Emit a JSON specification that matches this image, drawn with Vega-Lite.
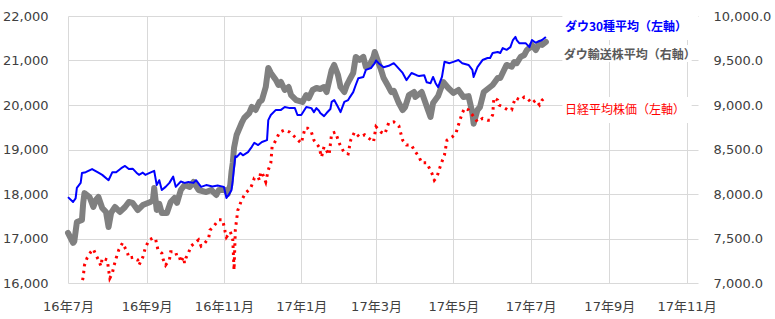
{
  "$schema": "https://vega.github.io/schema/vega-lite/v6.json",
  "width": 630,
  "height": 267,
  "autosize": {"type": "none"},
  "padding": {"left": 68, "top": 16, "right": 77, "bottom": 36},
  "background": "white",
  "config": {
    "view": {"stroke": null},
    "axis": {
      "labelFont": "DejaVu Sans, Noto Sans CJK JP",
      "labelFontSize": 13,
      "labelColor": "#404040",
      "domain": false,
      "ticks": false,
      "tickSize": 0,
      "gridColor": "#d9d9d9",
      "gridWidth": 1,
      "title": null
    }
  },
  "datasets": {
    "dow": [
      {"date":"2016-07-01","value":17930},{"date":"2016-07-05","value":17820},{"date":"2016-07-07","value":17900},{"date":"2016-07-08","value":18140},{"date":"2016-07-11","value":18250},{"date":"2016-07-12","value":18470},{"date":"2016-07-15","value":18490},{"date":"2016-07-20","value":18560},{"date":"2016-07-25","value":18480},{"date":"2016-07-28","value":18430},{"date":"2016-08-02","value":18310},{"date":"2016-08-05","value":18490},{"date":"2016-08-08","value":18490},{"date":"2016-08-12","value":18580},{"date":"2016-08-15","value":18630},{"date":"2016-08-18","value":18560},{"date":"2016-08-21","value":18570},{"date":"2016-08-24","value":18480},{"date":"2016-08-26","value":18430},{"date":"2016-08-29","value":18480},{"date":"2016-08-31","value":18430},{"date":"2016-09-03","value":18470},{"date":"2016-09-07","value":18520},{"date":"2016-09-09","value":18200},{"date":"2016-09-11","value":18310},{"date":"2016-09-13","value":18090},{"date":"2016-09-16","value":18160},{"date":"2016-09-19","value":18250},{"date":"2016-09-22","value":18390},{"date":"2016-09-24","value":18160},{"date":"2016-09-28","value":18280},{"date":"2016-10-01","value":18250},{"date":"2016-10-04","value":18270},{"date":"2016-10-08","value":18250},{"date":"2016-10-10","value":18310},{"date":"2016-10-14","value":18160},{"date":"2016-10-18","value":18200},{"date":"2016-10-23","value":18170},{"date":"2016-10-27","value":18190},{"date":"2016-11-01","value":18160},{"date":"2016-11-03","value":17910},{"date":"2016-11-05","value":17990},{"date":"2016-11-07","value":18090},{"date":"2016-11-08","value":18310},{"date":"2016-11-09","value":18600},{"date":"2016-11-10","value":18850},{"date":"2016-11-11","value":18830},{"date":"2016-11-14","value":18920},{"date":"2016-11-16","value":18870},{"date":"2016-11-20","value":18940},{"date":"2016-11-23","value":19060},{"date":"2016-11-25","value":19150},{"date":"2016-11-28","value":19100},{"date":"2016-12-01","value":19170},{"date":"2016-12-05","value":19210},{"date":"2016-12-06","value":19660},{"date":"2016-12-08","value":19775},{"date":"2016-12-12","value":19890},{"date":"2016-12-16","value":19890},{"date":"2016-12-19","value":19955},{"date":"2016-12-23","value":19930},{"date":"2016-12-27","value":19930},{"date":"2016-12-29","value":19775},{"date":"2017-01-01","value":19775},{"date":"2017-01-05","value":19955},{"date":"2017-01-09","value":19930},{"date":"2017-01-11","value":19840},{"date":"2017-01-13","value":19930},{"date":"2017-01-15","value":19870},{"date":"2017-01-16","value":19820},{"date":"2017-01-19","value":19750},{"date":"2017-01-21","value":19820},{"date":"2017-01-24","value":19910},{"date":"2017-01-25","value":20070},{"date":"2017-01-27","value":20110},{"date":"2017-01-30","value":19955},{"date":"2017-02-01","value":19840},{"date":"2017-02-04","value":20070},{"date":"2017-02-07","value":20110},{"date":"2017-02-08","value":20160},{"date":"2017-02-11","value":20290},{"date":"2017-02-13","value":20450},{"date":"2017-02-15","value":20600},{"date":"2017-02-19","value":20630},{"date":"2017-02-21","value":20790},{"date":"2017-02-25","value":20830},{"date":"2017-02-28","value":20940},{"date":"2017-03-01","value":21000},{"date":"2017-03-03","value":20940},{"date":"2017-03-07","value":20850},{"date":"2017-03-11","value":20880},{"date":"2017-03-15","value":20940},{"date":"2017-03-17","value":20880},{"date":"2017-03-22","value":20720},{"date":"2017-03-25","value":20560},{"date":"2017-03-29","value":20720},{"date":"2017-04-02","value":20670},{"date":"2017-04-04","value":20650},{"date":"2017-04-08","value":20670},{"date":"2017-04-10","value":20510},{"date":"2017-04-13","value":20490},{"date":"2017-04-15","value":20630},{"date":"2017-04-17","value":20490},{"date":"2017-04-19","value":20400},{"date":"2017-04-22","value":20630},{"date":"2017-04-24","value":20970},{"date":"2017-04-28","value":20940},{"date":"2017-05-01","value":20970},{"date":"2017-05-05","value":21010},{"date":"2017-05-08","value":20940},{"date":"2017-05-13","value":20900},{"date":"2017-05-16","value":20790},{"date":"2017-05-17","value":20630},{"date":"2017-05-20","value":20850},{"date":"2017-05-24","value":21010},{"date":"2017-05-28","value":21055},{"date":"2017-05-30","value":21055},{"date":"2017-06-01","value":21170},{"date":"2017-06-05","value":21190},{"date":"2017-06-07","value":21170},{"date":"2017-06-09","value":21280},{"date":"2017-06-12","value":21240},{"date":"2017-06-15","value":21300},{"date":"2017-06-17","value":21460},{"date":"2017-06-19","value":21530},{"date":"2017-06-20","value":21460},{"date":"2017-06-22","value":21390},{"date":"2017-06-27","value":21390},{"date":"2017-06-30","value":21300},{"date":"2017-07-02","value":21460},{"date":"2017-07-05","value":21400},{"date":"2017-07-10","value":21460},{"date":"2017-07-13","value":21530}
    ],
    "nikkei": [
      {"date":"2016-07-06","value":15380},{"date":"2016-07-08","value":15100},{"date":"2016-07-11","value":15700},{"date":"2016-07-12","value":16000},{"date":"2016-07-13","value":16135},{"date":"2016-07-14","value":16400},{"date":"2016-07-16","value":16560},{"date":"2016-07-19","value":16700},{"date":"2016-07-21","value":16760},{"date":"2016-07-23","value":16630},{"date":"2016-07-25","value":16520},{"date":"2016-07-27","value":16380},{"date":"2016-07-28","value":16560},{"date":"2016-07-30","value":16540},{"date":"2016-08-01","value":16520},{"date":"2016-08-02","value":16300},{"date":"2016-08-03","value":16110},{"date":"2016-08-05","value":16220},{"date":"2016-08-06","value":16360},{"date":"2016-08-08","value":16560},{"date":"2016-08-10","value":16740},{"date":"2016-08-13","value":16900},{"date":"2016-08-15","value":16790},{"date":"2016-08-17","value":16670},{"date":"2016-08-18","value":16560},{"date":"2016-08-22","value":16580},{"date":"2016-08-25","value":16520},{"date":"2016-08-26","value":16400},{"date":"2016-08-29","value":16580},{"date":"2016-08-31","value":16790},{"date":"2016-09-03","value":16970},{"date":"2016-09-06","value":17010},{"date":"2016-09-08","value":17000},{"date":"2016-09-10","value":16740},{"date":"2016-09-13","value":16670},{"date":"2016-09-14","value":16540},{"date":"2016-09-16","value":16400},{"date":"2016-09-19","value":16520},{"date":"2016-09-20","value":16700},{"date":"2016-09-24","value":16700},{"date":"2016-09-25","value":16580},{"date":"2016-09-27","value":16580},{"date":"2016-09-28","value":16470},{"date":"2016-09-30","value":16580},{"date":"2016-10-01","value":16450},{"date":"2016-10-02","value":16560},{"date":"2016-10-04","value":16670},{"date":"2016-10-06","value":16830},{"date":"2016-10-10","value":16920},{"date":"2016-10-12","value":16970},{"date":"2016-10-14","value":16830},{"date":"2016-10-17","value":16900},{"date":"2016-10-20","value":17010},{"date":"2016-10-21","value":17190},{"date":"2016-10-23","value":17240},{"date":"2016-10-26","value":17350},{"date":"2016-10-28","value":17420},{"date":"2016-10-31","value":17420},{"date":"2016-11-02","value":17150},{"date":"2016-11-03","value":17030},{"date":"2016-11-06","value":17150},{"date":"2016-11-07","value":17080},{"date":"2016-11-08","value":16970},{"date":"2016-11-09","value":16290},{"date":"2016-11-10","value":17190},{"date":"2016-11-11","value":17420},{"date":"2016-11-12","value":17640},{"date":"2016-11-15","value":17865},{"date":"2016-11-18","value":18020},{"date":"2016-11-22","value":18130},{"date":"2016-11-24","value":18270},{"date":"2016-11-25","value":18360},{"date":"2016-11-28","value":18380},{"date":"2016-11-29","value":18310},{"date":"2016-11-30","value":18490},{"date":"2016-12-01","value":18490},{"date":"2016-12-04","value":18270},{"date":"2016-12-06","value":18540},{"date":"2016-12-08","value":18700},{"date":"2016-12-09","value":19060},{"date":"2016-12-12","value":19210},{"date":"2016-12-15","value":19390},{"date":"2016-12-19","value":19440},{"date":"2016-12-23","value":19390},{"date":"2016-12-27","value":19280},{"date":"2017-01-01","value":19140},{"date":"2017-01-04","value":19480},{"date":"2017-01-06","value":19480},{"date":"2017-01-09","value":19390},{"date":"2017-01-11","value":19210},{"date":"2017-01-15","value":19060},{"date":"2017-01-17","value":18830},{"date":"2017-01-19","value":19060},{"date":"2017-01-23","value":18880},{"date":"2017-01-25","value":19360},{"date":"2017-01-28","value":19390},{"date":"2017-01-31","value":19140},{"date":"2017-02-02","value":19030},{"date":"2017-02-04","value":18920},{"date":"2017-02-07","value":18900},{"date":"2017-02-09","value":19210},{"date":"2017-02-12","value":19390},{"date":"2017-02-16","value":19280},{"date":"2017-02-20","value":19330},{"date":"2017-02-23","value":19260},{"date":"2017-02-27","value":19170},{"date":"2017-03-01","value":19510},{"date":"2017-03-05","value":19390},{"date":"2017-03-08","value":19350},{"date":"2017-03-11","value":19600},{"date":"2017-03-15","value":19620},{"date":"2017-03-19","value":19530},{"date":"2017-03-22","value":19210},{"date":"2017-03-25","value":19100},{"date":"2017-03-29","value":19100},{"date":"2017-03-31","value":18990},{"date":"2017-04-04","value":18830},{"date":"2017-04-06","value":18700},{"date":"2017-04-10","value":18700},{"date":"2017-04-14","value":18470},{"date":"2017-04-16","value":18310},{"date":"2017-04-18","value":18380},{"date":"2017-04-21","value":18650},{"date":"2017-04-24","value":18880},{"date":"2017-04-26","value":19210},{"date":"2017-04-30","value":19280},{"date":"2017-05-03","value":19360},{"date":"2017-05-05","value":19550},{"date":"2017-05-08","value":19820},{"date":"2017-05-10","value":19930},{"date":"2017-05-13","value":19890},{"date":"2017-05-16","value":19780},{"date":"2017-05-20","value":19620},{"date":"2017-05-24","value":19700},{"date":"2017-05-28","value":19660},{"date":"2017-05-30","value":19660},{"date":"2017-06-01","value":19780},{"date":"2017-06-02","value":20160},{"date":"2017-06-05","value":20110},{"date":"2017-06-06","value":20000},{"date":"2017-06-09","value":19960},{"date":"2017-06-13","value":19890},{"date":"2017-06-16","value":19890},{"date":"2017-06-17","value":20000},{"date":"2017-06-19","value":20160},{"date":"2017-06-23","value":20110},{"date":"2017-06-26","value":20180},{"date":"2017-06-28","value":20160},{"date":"2017-07-01","value":20070},{"date":"2017-07-02","value":20040},{"date":"2017-07-05","value":20110},{"date":"2017-07-08","value":20000},{"date":"2017-07-10","value":20110},{"date":"2017-07-12","value":20160},{"date":"2017-07-13","value":20110}
    ],
    "transport": [
      {"date":"2016-07-01","value":7562},{"date":"2016-07-05","value":7450},{"date":"2016-07-06","value":7470},{"date":"2016-07-08","value":7685},{"date":"2016-07-12","value":7708},{"date":"2016-07-13","value":7900},{"date":"2016-07-14","value":8010},{"date":"2016-07-18","value":7966},{"date":"2016-07-21","value":7854},{"date":"2016-07-23","value":7933},{"date":"2016-07-25","value":7966},{"date":"2016-07-28","value":7843},{"date":"2016-07-31","value":7798},{"date":"2016-08-02","value":7629},{"date":"2016-08-04","value":7787},{"date":"2016-08-07","value":7854},{"date":"2016-08-11","value":7798},{"date":"2016-08-15","value":7854},{"date":"2016-08-18","value":7910},{"date":"2016-08-21","value":7900},{"date":"2016-08-25","value":7820},{"date":"2016-08-29","value":7876},{"date":"2016-09-04","value":7910},{"date":"2016-09-06","value":7933},{"date":"2016-09-07","value":8067},{"date":"2016-09-09","value":7820},{"date":"2016-09-11","value":7890},{"date":"2016-09-13","value":7787},{"date":"2016-09-17","value":7787},{"date":"2016-09-20","value":7910},{"date":"2016-09-23","value":7955},{"date":"2016-09-25","value":7900},{"date":"2016-09-28","value":8045},{"date":"2016-10-01","value":8101},{"date":"2016-10-05","value":8079},{"date":"2016-10-08","value":8135},{"date":"2016-10-12","value":8045},{"date":"2016-10-18","value":8022},{"date":"2016-10-22","value":8045},{"date":"2016-10-26","value":7989},{"date":"2016-10-28","value":8045},{"date":"2016-11-02","value":8045},{"date":"2016-11-04","value":8000},{"date":"2016-11-06","value":8100},{"date":"2016-11-07","value":8250},{"date":"2016-11-08","value":8350},{"date":"2016-11-09","value":8520},{"date":"2016-11-11","value":8663},{"date":"2016-11-15","value":8798},{"date":"2016-11-17","value":8854},{"date":"2016-11-21","value":8910},{"date":"2016-11-23","value":8978},{"date":"2016-11-26","value":8944},{"date":"2016-11-29","value":9034},{"date":"2016-12-01","value":9056},{"date":"2016-12-04","value":9202},{"date":"2016-12-06","value":9416},{"date":"2016-12-08","value":9360},{"date":"2016-12-12","value":9281},{"date":"2016-12-14","value":9225},{"date":"2016-12-16","value":9258},{"date":"2016-12-19","value":9169},{"date":"2016-12-22","value":9202},{"date":"2016-12-24","value":9112},{"date":"2016-12-28","value":9056},{"date":"2017-01-02","value":9034},{"date":"2017-01-05","value":9112},{"date":"2017-01-07","value":9079},{"date":"2017-01-10","value":9169},{"date":"2017-01-13","value":9191},{"date":"2017-01-16","value":9180},{"date":"2017-01-19","value":9202},{"date":"2017-01-21","value":9146},{"date":"2017-01-25","value":9393},{"date":"2017-01-27","value":9450},{"date":"2017-01-30","value":9337},{"date":"2017-02-01","value":9202},{"date":"2017-02-04","value":9146},{"date":"2017-02-06","value":9225},{"date":"2017-02-08","value":9281},{"date":"2017-02-11","value":9360},{"date":"2017-02-13","value":9540},{"date":"2017-02-16","value":9506},{"date":"2017-02-19","value":9540},{"date":"2017-02-21","value":9427},{"date":"2017-02-24","value":9450},{"date":"2017-02-27","value":9540},{"date":"2017-02-28","value":9596},{"date":"2017-03-03","value":9472},{"date":"2017-03-05","value":9393},{"date":"2017-03-07","value":9303},{"date":"2017-03-11","value":9202},{"date":"2017-03-13","value":9146},{"date":"2017-03-15","value":9160},{"date":"2017-03-19","value":9022},{"date":"2017-03-22","value":8944},{"date":"2017-03-24","value":8978},{"date":"2017-03-27","value":9112},{"date":"2017-03-31","value":9146},{"date":"2017-04-01","value":9090},{"date":"2017-04-06","value":9146},{"date":"2017-04-11","value":8944},{"date":"2017-04-13","value":8865},{"date":"2017-04-15","value":9022},{"date":"2017-04-19","value":9100},{"date":"2017-04-23","value":9258},{"date":"2017-04-27","value":9191},{"date":"2017-05-01","value":9135},{"date":"2017-05-05","value":9169},{"date":"2017-05-09","value":9090},{"date":"2017-05-13","value":9100},{"date":"2017-05-16","value":8910},{"date":"2017-05-17","value":8790},{"date":"2017-05-20","value":8944},{"date":"2017-05-22","value":8978},{"date":"2017-05-25","value":9146},{"date":"2017-05-29","value":9191},{"date":"2017-06-01","value":9225},{"date":"2017-06-05","value":9303},{"date":"2017-06-07","value":9303},{"date":"2017-06-10","value":9393},{"date":"2017-06-12","value":9450},{"date":"2017-06-16","value":9430},{"date":"2017-06-18","value":9483},{"date":"2017-06-20","value":9470},{"date":"2017-06-23","value":9540},{"date":"2017-06-26","value":9562},{"date":"2017-06-28","value":9618},{"date":"2017-07-01","value":9652},{"date":"2017-07-02","value":9675},{"date":"2017-07-05","value":9618},{"date":"2017-07-08","value":9697},{"date":"2017-07-10","value":9674},{"date":"2017-07-13","value":9708}
    ]
  },
  "layer": [
    {
      "data": {"name": "transport"},
      "mark": {"type": "line", "color": "#808080", "strokeWidth": 6, "strokeJoin": "round", "strokeCap": "round"},
      "encoding": {
        "x": {
          "field": "date", "type": "temporal",
          "scale": {"type": "utc", "domain": [{"year": 2016, "month": 7, "date": 1, "utc": true}, {"year": 2017, "month": 11, "date": 10, "utc": true}]},
          "axis": {
            "orient": "bottom", "grid": true,
            "labelExpr": "utcFormat(datum.value, '%y年%-m月')",
            "labelFlush": false, "labelOverlap": false, "labelPadding": 17, "labelAngle": 0,
            "values": [
              {"year": 2016, "month": 7, "date": 1, "utc": true},
              {"year": 2016, "month": 9, "date": 1, "utc": true},
              {"year": 2016, "month": 11, "date": 1, "utc": true},
              {"year": 2017, "month": 1, "date": 1, "utc": true},
              {"year": 2017, "month": 3, "date": 1, "utc": true},
              {"year": 2017, "month": 5, "date": 1, "utc": true},
              {"year": 2017, "month": 7, "date": 1, "utc": true},
              {"year": 2017, "month": 9, "date": 1, "utc": true},
              {"year": 2017, "month": 11, "date": 1, "utc": true}
            ]
          }
        },
        "y": {
          "field": "value", "type": "quantitative",
          "scale": {"domain": [7000, 10000], "nice": false, "zero": false},
          "axis": {"orient": "right", "grid": false, "format": ",.1f", "labelPadding": 15,
                   "values": [7000, 7500, 8000, 8500, 9000, 9500, 10000]}
        }
      }
    },
    {
      "data": {"name": "dow"},
      "mark": {"type": "line", "color": "#0000ff", "strokeWidth": 2, "strokeJoin": "round"},
      "encoding": {
        "x": {"field": "date", "type": "temporal", "scale": {"type": "utc"}},
        "y": {
          "field": "value", "type": "quantitative",
          "scale": {"domain": [16000, 22000], "nice": false, "zero": false},
          "axis": {"orient": "left", "grid": true, "format": ",.0f", "labelPadding": 20,
                   "values": [16000, 17000, 18000, 19000, 20000, 21000, 22000]}
        }
      }
    },
    {
      "data": {"name": "nikkei"},
      "mark": {"type": "line", "color": "#ff0000", "strokeWidth": 3, "strokeDash": [2.5, 4.5], "clip": true},
      "encoding": {
        "x": {"field": "date", "type": "temporal", "scale": {"type": "utc"}},
        "y": {
          "field": "value", "type": "quantitative",
          "scale": {"domain": [16000, 22000], "nice": false, "zero": false},
          "axis": null
        }
      }
    },
    {
      "data": {"values": [{}]},
      "mark": {"type": "rect", "color": "white"},
      "encoding": {
        "x": {"datum": {"year": 2017, "month": 7, "date": 26, "utc": true}, "type": "temporal"},
        "x2": {"datum": {"year": 2017, "month": 11, "date": 10, "utc": true}},
        "y": {"datum": 22090, "type": "quantitative", "scale": {"domain": [16000, 22000], "nice": false, "zero": false}, "axis": null},
        "y2": {"datum": 21461}
      }
    },
    {
      "data": {"values": [{}]},
      "mark": {"type": "rect", "color": "white"},
      "encoding": {
        "x": {"datum": {"year": 2017, "month": 7, "date": 26, "utc": true}, "type": "temporal"},
        "x2": {"datum": {"year": 2017, "month": 11, "date": 5, "utc": true}},
        "y": {"datum": 21348, "type": "quantitative", "scale": {"domain": [16000, 22000], "nice": false, "zero": false}, "axis": null},
        "y2": {"datum": 20966}
      }
    },
    {
      "data": {"values": [{}]},
      "mark": {"type": "rect", "color": "white"},
      "encoding": {
        "x": {"datum": {"year": 2017, "month": 7, "date": 26, "utc": true}, "type": "temporal"},
        "x2": {"datum": {"year": 2017, "month": 11, "date": 5, "utc": true}},
        "y": {"datum": 20180, "type": "quantitative", "scale": {"domain": [16000, 22000], "nice": false, "zero": false}, "axis": null},
        "y2": {"datum": 19596}
      }
    },
    {
      "data": {"values": [{}]},
      "mark": {"type": "text", "text": "ダウ30種平均（左軸）", "align": "left", "baseline": "middle", "font": "Noto Sans CJK JP", "fontSize": 12, "fontWeight": "bold", "color": "#0000ff"},
      "encoding": {
        "x": {"datum": {"year": 2017, "month": 7, "date": 28, "utc": true}, "type": "temporal"},
        "y": {"datum": 21753, "type": "quantitative", "scale": {"domain": [16000, 22000], "nice": false, "zero": false}, "axis": null}
      }
    },
    {
      "data": {"values": [{}]},
      "mark": {"type": "text", "text": "ダウ輸送株平均（右軸）", "align": "left", "baseline": "middle", "font": "Noto Sans CJK JP", "fontSize": 12, "fontWeight": "bold", "color": "#595959"},
      "encoding": {
        "x": {"datum": {"year": 2017, "month": 7, "date": 27, "utc": true}, "type": "temporal"},
        "y": {"datum": 21124, "type": "quantitative", "scale": {"domain": [16000, 22000], "nice": false, "zero": false}, "axis": null}
      }
    },
    {
      "data": {"values": [{}]},
      "mark": {"type": "text", "text": "日経平均株価（左軸）", "align": "left", "baseline": "middle", "font": "Noto Sans CJK JP", "fontSize": 12, "color": "#ff0000"},
      "encoding": {
        "x": {"datum": {"year": 2017, "month": 7, "date": 28, "utc": true}, "type": "temporal"},
        "y": {"datum": 19888, "type": "quantitative", "scale": {"domain": [16000, 22000], "nice": false, "zero": false}, "axis": null}
      }
    }
  ],
  "resolve": {"scale": {"y": "independent"}}
}
